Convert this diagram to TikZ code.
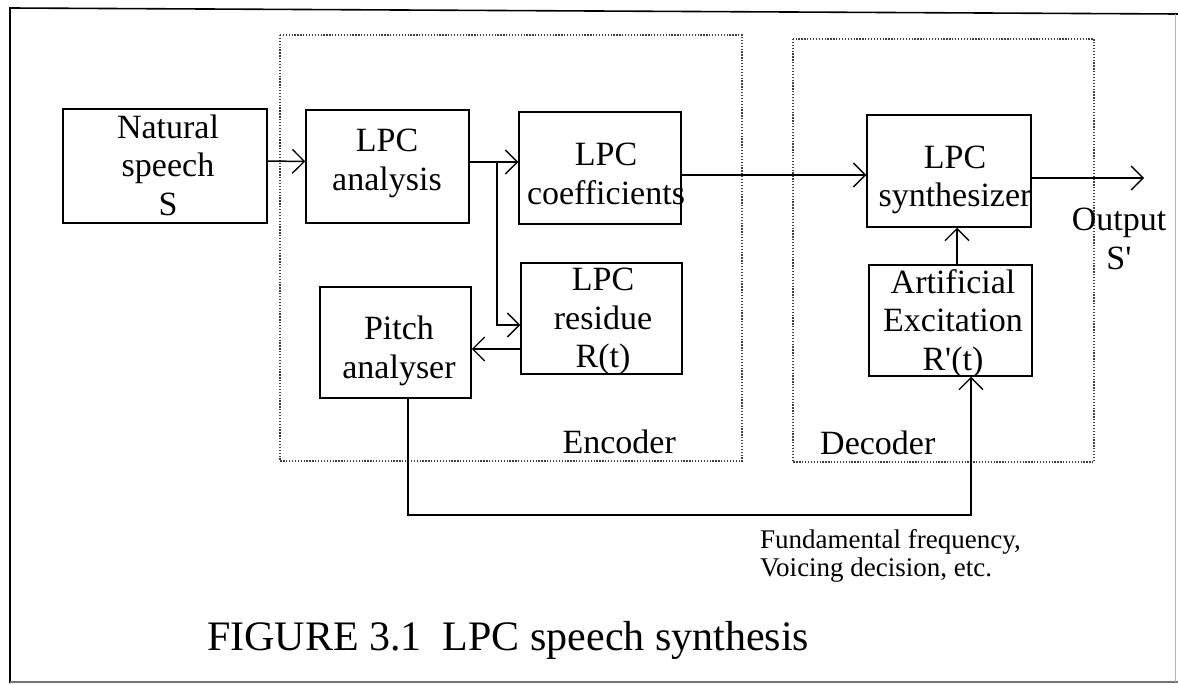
\documentclass[tikz,border=0pt]{standalone}
\usepackage{fontspec}
\setmainfont{Liberation Serif}
\usetikzlibrary{arrows.meta}

\begin{document}
\begin{tikzpicture}[x=1pt,y=-1pt,
  blk/.style={draw, line width=1.5pt, inner sep=0pt},
  txt/.style={inner sep=0pt, align=center, font=\fontsize{34}{38.5}\selectfont},
  lbl/.style={inner sep=0pt, font=\fontsize{34}{38.5}\selectfont},
  note/.style={inner sep=0pt, align=left, font=\fontsize{27}{28.5}\selectfont},
  grp/.style={draw=black!75, line width=1.3pt, dash pattern=on 1.3pt off 1.6pt},
  arr/.style={line width=1.5pt, -{Straight Barb[length=12pt,width=24pt,line width=1.3pt]}},
  wire/.style={line width=1.5pt}]

\useasboundingbox (0,0) rectangle (1178,685);

% page frame
\draw[line width=1.6pt] (10,683) -- (10,8) -- (1178,14);
\draw[line width=1.2pt, black!55] (10,682) -- (1178,682);
\draw[line width=1pt, black!30] (1175,14) -- (1175,682);

% encoder / decoder groups
\draw[grp] (280,35) rectangle (742,461);
\draw[grp] (793,39) rectangle (1094,462);

% blocks
\node[blk, minimum width=204pt, minimum height=114pt] (nat)   at (165,166)   {};
\node[blk, minimum width=163pt, minimum height=113pt] (ana)   at (387.5,166.5) {};
\node[blk, minimum width=162pt, minimum height=112pt] (coef)  at (600,168)   {};
\node[blk, minimum width=161pt, minimum height=111pt] (res)   at (601.5,318.5) {};
\node[blk, minimum width=151pt, minimum height=111pt] (pitch) at (395.5,342.5) {};
\node[blk, minimum width=164pt, minimum height=112pt] (synth) at (949,171)   {};
\node[blk, minimum width=163pt, minimum height=111pt] (art)   at (950.5,320.5) {};

% block texts
\node[txt] (natT)   at (168,165)   {Natural\\speech\\S};
\node[txt] (anaT)   at (387,163.5) {LPC\\analysis};
\node[txt] (coefT)  at (606,174)   {LPC\\coefficients};
\node[txt] (resT)   at (603,321.5) {LPC\\residue\\R(t)};
\node[txt] (pitchT) at (399,351)   {Pitch\\analyser};
\node[txt] (synthT) at (955,180)   {LPC\\synthesizer};
\node[txt] (artT)   at (953,323.5) {Artificial\\Excitation\\R\textquotesingle(t)};
\node[txt] (outT)   at (1119,239)  {Output\\S\textquotesingle};

% group labels
\node[lbl, anchor=base east] (encT) at (676,453) {Encoder};
\node[lbl, anchor=base west] (decT) at (820,454) {Decoder};

% side information note
\node[note, anchor=north west] (fundT) at (760,529) {Fundamental frequency,\\Voicing decision, etc.};

% caption
\node[inner sep=0pt, anchor=base west, font=\fontsize{42}{48}\selectfont] (cap) at (207,650)
  {FIGURE 3.1\ \ LPC speech synthesis};

% signal flow
\draw[arr] ([yshift=5pt]nat.east) -- ([yshift=5pt]ana.west);
\coordinate (br) at ([xshift=27pt,yshift=4.5pt]ana.east);
\draw[arr] ([yshift=4.5pt]ana.east) -- (br -| coef.west);
\draw[arr] (br) |- ([yshift=-6.5pt]res.west);
\draw[arr] ([yshift=-30.5pt]res.west) -- ([yshift=-30.5pt]res.west -| pitch.east);
\draw[arr] ([yshift=-7pt]coef.east) -- ([yshift=-7pt]coef.east -| synth.west);
\coordinate (out) at (1144,178);
\draw[arr] (synth.east |- out) -- (out);
\draw[arr] ([xshift=6.5pt]art.north) -- ([xshift=6.5pt]art.north |- synth.south);
\coordinate (fbk) at (700,515);
\draw[arr] ([xshift=12.5pt]pitch.south) -- ([xshift=12.5pt]pitch.south |- fbk)
  -| ([xshift=20.5pt]art.south);

\end{tikzpicture}
\end{document}
